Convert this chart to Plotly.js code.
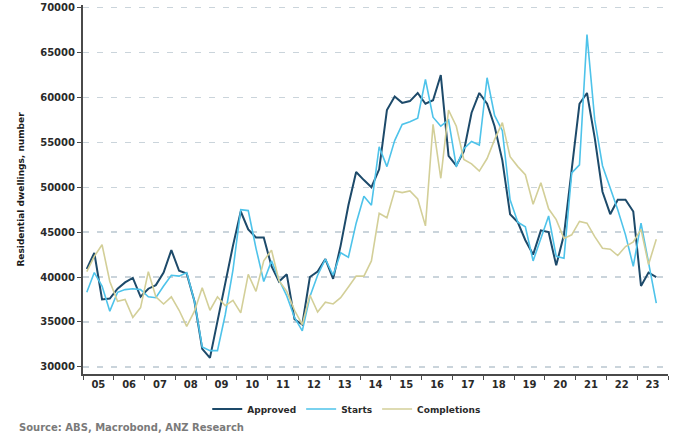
<!DOCTYPE html>
<html>
<head>
<meta charset="utf-8">
<script src="https://cdn.plot.ly/plotly-3.0.1.min.js"></script>
<style>html,body{margin:0;padding:0;background:#fff;}#chart{width:678px;height:434px;}</style>
</head>
<body>
<div id="chart"></div>
<script>
// Quarterly series, 2005 Q1 .. 2023 Q3
const startYear = 2005;
const approved = [
  40900, 42700, 37500, 37600, 38700, 39400, 39900, 37800,
  38700, 39100, 40500, 43000, 40700, 40400, 37300, 32000,
  31000, 35000, 39500, 43500, 47300, 45300, 44400, 44400,
  41200, 39500, 40300, 35300, 34700, 40000, 40600, 42000,
  39800, 43500, 48000, 51700, 50800, 50000, 52000, 58600,
  60100, 59400, 59600, 60500, 59300, 59700, 62500, 53500,
  52400, 54000, 58300, 60500, 59300, 56800, 53000, 47000,
  46100, 44100, 42500, 45200, 45000, 41300, 44700, 52000,
  59300, 60500, 55500, 49500, 47000, 48600, 48600, 47300,
  39000, 40500, 40000
];
const starts = [
  38300, 40500, 39000, 36200, 38300, 38600, 38700, 38600,
  37800, 37700, 39000, 40200, 40100, 40500, 37300, 32200,
  31800, 31800, 35800, 40800, 47500, 47400, 43200, 39500,
  41800, 39700, 37900, 35500, 34000, 37800, 40200, 42000,
  40200, 42700, 42200, 46000, 49000, 48000, 54500, 52300,
  55200, 57000, 57300, 57700, 62000, 57800, 56800, 57500,
  52300, 54300, 55100, 54700, 62200, 58000, 56300, 48600,
  46100, 45600, 41800, 44300, 46800, 42300, 42100, 51600,
  52500, 67000, 57500, 52400, 50000, 47500, 44700, 41200,
  46000, 41800, 37100
];
const completions = [
  40600, 42300, 43600, 39500, 37300, 37500, 35500, 36600,
  40600, 37800, 37000, 37800, 36300, 34500, 36200, 38800,
  36300, 37800, 36800, 37400, 36000, 40300, 38400, 41800,
  43000, 39600, 38400, 36300, 34700, 38000, 36100, 37200,
  37000, 37700, 38900, 40100, 40100, 41800, 47100, 46600,
  49600, 49400, 49600, 48700, 45700, 57000, 51000, 58600,
  56800, 53100, 52600, 51800, 53200, 55300, 57200, 53400,
  52300, 51400, 48100, 50500, 47600, 46400, 44300, 44700,
  46200, 46000, 44500, 43200, 43100, 42400, 43400, 43900,
  45300, 41400, 44200
];
const yearLabels = ['05','06','07','08','09','10','11','12','13','14','15','16','17','18','19','20','21','22','23'];
const yTicks = [30000, 35000, 40000, 45000, 50000, 55000, 60000, 65000, 70000];

// mid-quarter dates
const midMonths = ['02','05','08','11'];
const dates = approved.map((_, i) => {
  const y = startYear + Math.floor(i / 4);
  return y + '-' + midMonths[i % 4] + '-15';
});
const tickVals = yearLabels.map((_, k) => (startYear + k) + '-07-02');

const font = 'DejaVu Sans, Verdana, sans-serif';
const textCol = '#2a2a2a';
const traces = [
  {x: dates, y: approved, name: 'Approved', type: 'scatter', mode: 'lines',
   line: {color: '#1d4a6a', width: 2}},
  {x: dates, y: starts, name: 'Starts', type: 'scatter', mode: 'lines',
   line: {color: '#4ec3ea', width: 1.6}},
  {x: dates, y: completions, name: 'Completions', type: 'scatter', mode: 'lines',
   line: {color: '#d3cf98', width: 1.6}}
];

const layout = {
  width: 678, height: 434,
  margin: {l: 83, r: 10, t: 5, b: 60},
  paper_bgcolor: '#ffffff', plot_bgcolor: '#ffffff',
  font: {family: font, size: 9, color: textCol},
  showlegend: true,
  legend: {orientation: 'h', x: 0.45, xanchor: 'center', y: -0.095, yanchor: 'middle',
           font: {family: font, size: 9, color: textCol, weight: 'bold'}, itemwidth: 30, tracegroupgap: 0},
  xaxis: {
    type: 'date',
    range: ['2005-01-01', '2024-01-01'],
    tickmode: 'array', tickvals: tickVals, ticktext: yearLabels,
    ticks: '', ticklen: 0,
    tickfont: {family: font, size: 10, color: textCol, weight: 'bold'},
    showgrid: false, zeroline: false,
    showline: true, linecolor: '#4a4a4a', linewidth: 2,
    minor: {dtick: 'M12', tick0: '2005-01-01', ticks: 'outside', ticklen: 4, tickcolor: '#4a4a4a', tickwidth: 1, showgrid: false}
  },
  yaxis: {
    range: [29200, 70300],
    tickmode: 'array', tickvals: yTicks,
    tickformat: 'd',
    ticks: 'outside', ticklen: 4, tickcolor: '#4a4a4a',
    tickfont: {family: font, size: 10, color: textCol, weight: 'bold'},
    showgrid: true, gridcolor: '#cad4db', gridwidth: 1.5, griddash: '6px,8px',
    zeroline: false,
    showline: true, linecolor: '#4a4a4a', linewidth: 2,
    title: {text: 'Residential dwellings, number', standoff: 14,
            font: {family: font, size: 9, color: '#1a1a1a', weight: 'bold'}}
  },
  annotations: [{
    text: 'Source: ABS, Macrobond, ANZ Research',
    xref: 'paper', yref: 'paper', x: -0.113, y: -0.146,
    xanchor: 'left', yanchor: 'middle', showarrow: false,
    font: {family: font, size: 10, color: '#7a7a7a', weight: 'bold'}
  }]
};

Plotly.newPlot('chart', traces, layout, {displayModeBar: false, staticPlot: true});
</script>
</body>
</html>
